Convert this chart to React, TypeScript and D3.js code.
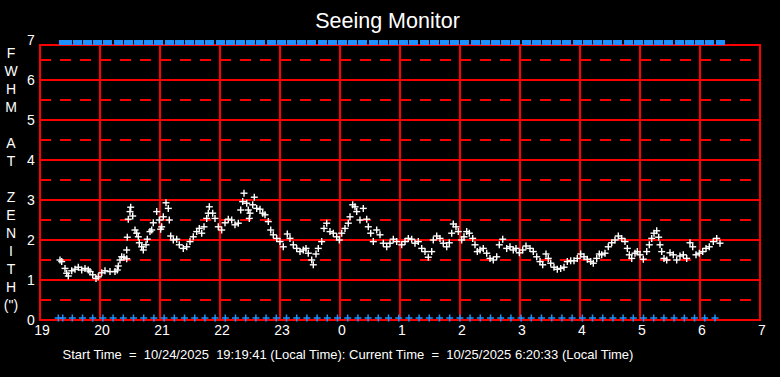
import React from "react";
import * as d3 from "d3";

// minutes since 19:00 local time
const seeingTimes: number[] = [
  20.0, 21.7, 25.0, 26.7, 28.3, 31.7, 35.0, 38.3, 41.7, 45.0, 48.3, 50.0, 52.7, 56.0, 58.3, 61.7, 65.0, 70.0, 75.0, 77.3,
  78.3, 80.0, 81.7, 84.0, 86.7, 86.7, 87.3, 88.3, 90.0, 90.7, 92.7, 95.0, 96.7, 98.3, 99.3, 101.7, 103.3, 106.0, 107.3, 110.0,
  111.7, 113.3, 116.7, 119.3, 120.7, 121.7, 123.3, 126.0, 128.3, 129.3, 130.7, 133.3, 136.7, 139.3, 143.3, 146.7, 150.0, 153.3, 156.7, 159.3,
  161.7, 164.0, 166.7, 168.3, 169.3, 172.7, 175.0, 178.3, 181.7, 185.0, 188.3, 191.7, 195.0, 198.3, 200.7, 202.7, 204.0, 206.7, 208.3, 209.3,
  210.0, 212.7, 214.3, 216.7, 220.0, 222.7, 225.0, 228.3, 230.7, 233.3, 236.7, 240.0, 243.3, 247.3, 250.0, 253.3, 256.7, 260.0, 263.3, 266.0,
  268.3, 271.7, 273.3, 276.0, 278.3, 281.7, 284.0, 286.7, 290.0, 293.3, 296.7, 299.3, 301.7, 305.0, 308.3, 310.0, 312.7, 315.0, 316.7, 320.0,
  323.3, 326.7, 328.3, 330.7, 333.3, 336.7, 340.0, 343.3, 346.7, 350.0, 353.3, 356.7, 361.7, 365.0, 368.3, 371.7, 375.0, 378.3, 381.7, 385.0,
  388.3, 391.7, 393.3, 396.7, 400.0, 403.3, 406.7, 409.3, 411.7, 413.3, 416.0, 418.3, 421.7, 424.0, 426.7, 429.3, 432.7, 435.0, 437.3, 440.0,
  443.3, 446.7, 450.0, 453.3, 456.7, 459.3, 462.7, 466.7, 470.0, 473.3, 476.0, 479.3, 482.7, 486.0, 490.0, 493.3, 496.7, 500.0, 502.7, 506.0,
  508.3, 510.7, 514.0, 517.3, 520.7, 524.0, 527.3, 530.7, 534.0, 537.3, 540.7, 544.0, 547.3, 550.7, 553.3, 556.7, 559.3, 561.7, 565.0, 568.3,
  571.7, 575.0, 578.3, 581.7, 585.0, 587.3, 589.3, 591.7, 595.0, 597.3, 600.0, 603.3, 606.7, 609.3, 611.7, 614.0, 616.7, 618.7, 620.0, 621.7,
  624.0, 626.7, 630.0, 633.3, 636.7, 640.0, 643.3, 646.7, 650.0, 652.7, 656.0, 659.3, 662.7, 666.0, 669.3, 673.3, 676.7, 680.0,
];

const seeingValues: number[] = [
  1.50, 1.46, 1.29, 1.17, 1.10, 1.23, 1.27, 1.32, 1.25, 1.29, 1.25, 1.21, 1.13, 1.04, 1.08, 1.18, 1.23, 1.21, 1.21, 1.25,
  1.35, 1.50, 1.58, 1.57, 1.53, 1.75, 2.07, 2.52, 2.71, 2.82, 2.60, 2.25, 2.17, 2.08, 1.93, 1.83, 1.75, 1.88, 2.02, 2.21,
  2.25, 2.43, 2.71, 2.50, 2.27, 2.33, 2.58, 2.93, 2.79, 2.50, 2.10, 2.00, 2.02, 1.88, 1.79, 1.83, 1.96, 2.08, 2.21, 2.29,
  2.17, 2.33, 2.54, 2.67, 2.83, 2.67, 2.54, 2.33, 2.25, 2.43, 2.52, 2.50, 2.38, 2.42, 2.75, 2.96, 3.17, 2.92, 2.75, 2.54,
  2.67, 2.88, 3.07, 2.79, 2.77, 2.67, 2.63, 2.46, 2.25, 2.13, 2.04, 1.96, 1.83, 2.15, 2.04, 1.88, 1.79, 1.71, 1.75, 1.79,
  1.67, 1.50, 1.38, 1.65, 1.79, 1.96, 2.29, 2.42, 2.21, 2.17, 2.08, 2.00, 2.17, 2.29, 2.42, 2.58, 2.88, 2.83, 2.71, 2.50,
  2.79, 2.52, 2.33, 2.17, 1.96, 2.25, 2.13, 1.92, 1.83, 1.92, 2.02, 1.96, 1.88, 1.96, 2.04, 2.02, 1.92, 1.96, 1.79, 1.71,
  1.57, 1.71, 2.00, 2.10, 2.04, 1.92, 1.83, 1.93, 2.17, 2.40, 2.33, 2.21, 2.00, 2.08, 2.21, 2.17, 2.04, 1.88, 1.71, 1.75,
  1.79, 1.67, 1.54, 1.50, 1.58, 1.88, 2.02, 1.79, 1.83, 1.75, 1.79, 1.68, 1.75, 1.85, 1.79, 1.71, 1.58, 1.46, 1.38, 1.65,
  1.54, 1.42, 1.32, 1.27, 1.29, 1.32, 1.46, 1.48, 1.48, 1.54, 1.65, 1.58, 1.52, 1.46, 1.42, 1.54, 1.65, 1.63, 1.67, 1.83,
  1.93, 2.00, 2.10, 2.04, 1.96, 1.79, 1.63, 1.54, 1.67, 1.71, 1.63, 1.52, 1.71, 1.88, 2.04, 2.17, 2.23, 2.07, 1.88, 1.71,
  1.54, 1.50, 1.68, 1.63, 1.50, 1.60, 1.63, 1.54, 1.93, 1.83, 1.63, 1.67, 1.71, 1.79, 1.83, 1.96, 2.04, 1.92,
];

// minutes since 19:00 of the status markers (blue)
const statusTimes: number[] = [
  18.3, 22.7, 32.3, 42.5, 52.7, 62.9, 73.1, 83.3, 93.5, 103.7, 113.9, 124.1, 134.3, 144.5, 154.7, 164.9, 175.1, 185.3, 195.5, 205.7,
  215.9, 226.1, 236.3, 246.5, 256.7, 266.9, 277.1, 287.3, 297.5, 307.7, 317.9, 328.1, 338.3, 348.5, 358.7, 368.9, 379.1, 389.3, 399.5, 409.7,
  419.9, 430.1, 440.3, 450.5, 460.7, 470.9, 481.1, 491.3, 501.5, 511.7, 521.9, 532.1, 542.3, 552.5, 562.7, 572.9, 583.1, 593.3, 603.5, 613.7,
  623.9, 634.1, 644.3, 654.5, 664.7, 675.0,
];

const xTickLabels: string[] = ["19", "20", "21", "22", "23", "0", "1", "2", "3", "4", "5", "6", "7"];
const yTicks: number[] = [0, 1, 2, 3, 4, 5, 6, 7];
const yHalfTicks: number[] = [0.5, 1.5, 2.5, 3.5, 4.5, 5.5, 6.5];
const yTitleLetters: string[] = ["F", "W", "H", "M", "", "A", "T", "", "Z", "E", "N", "I", "T", "H", "(\")"];

const title = "Seeing Monitor";
const footer = "Start Time  =  10/24/2025  19:19:41 (Local Time): Current Time  =  10/25/2025 6:20:33 (Local Time)";

const W = 780;
const H = 377;
const left = 40;
const right = 760;
const boxTop = 45;
const bottom = 320;

export default function App() {
  const x = d3.scaleLinear().domain([0, 720]).range([left, right]);
  const y = d3.scaleLinear().domain([0, 7]).range([bottom, 40]);
  const font = "Arial, 'Liberation Sans', Helvetica, sans-serif";
  const red = "#ff0000";
  const blue = "#1e90ff";

  return (
    <svg
      width={W}
      height={H}
      style={{ position: "absolute", left: 0, top: 0, background: "#000" }}
      fontFamily={font}
    >
      <rect x={0} y={0} width={W} height={H} fill="#000" />
      <text x={387.5} y={28} fill="#fff" fontSize={21.5} textAnchor="middle">
        {title}
      </text>

      {/* dashed half-unit lines */}
      {yHalfTicks.map((v) => (
        <line
          key={"h" + v}
          x1={left}
          x2={right}
          y1={y(v)}
          y2={y(v)}
          stroke={red}
          strokeWidth={2}
          strokeDasharray="11 9"
          shapeRendering="crispEdges"
        />
      ))}
      {/* solid unit lines */}
      {yTicks.filter((v) => v > 0 && v < 7).map((v) => (
        <line
          key={"s" + v}
          x1={left}
          x2={right}
          y1={y(v)}
          y2={y(v)}
          stroke={red}
          strokeWidth={2}
          shapeRendering="crispEdges"
        />
      ))}
      {/* vertical hour lines */}
      {xTickLabels.map((_, i) => (
        <line
          key={"v" + i}
          x1={x(i * 60)}
          x2={x(i * 60)}
          y1={boxTop}
          y2={bottom}
          stroke={red}
          strokeWidth={2}
          shapeRendering="crispEdges"
        />
      ))}
      <rect
        x={left}
        y={boxTop}
        width={right - left}
        height={bottom - boxTop}
        fill="none"
        stroke={red}
        strokeWidth={2}
        shapeRendering="crispEdges"
      />

      {/* y tick labels */}
      {yTicks.map((v) => (
        <text key={"yl" + v} x={31} y={y(v) + 5} fill="#fff" fontSize={14} textAnchor="middle">
          {v}
        </text>
      ))}
      {/* x tick labels */}
      {xTickLabels.map((t, i) => (
        <text key={"xl" + i} x={x(i * 60) + 2} y={335} fill="#fff" fontSize={14} textAnchor="middle">
          {t}
        </text>
      ))}
      {/* y title */}
      {yTitleLetters.map((c, i) => (
        <text key={"yt" + i} x={11} y={58 + i * 18} fill="#fff" fontSize={14} textAnchor="middle">
          {c}
        </text>
      ))}

      {/* blue status markers: top bar */}
      {statusTimes.map((t, i) => (
        <g key={"bt" + i}>
          <rect x={x(t) + 0.5} y={40} width={9} height={5} fill={blue} shapeRendering="crispEdges" />
        </g>
      ))}
      {/* blue status markers: bottom pluses */}
      {statusTimes.map((t, i) => (
        <g key={"bb" + i} stroke={blue} strokeWidth={1.5}>
          <line x1={x(t) - 3.5} x2={x(t) + 3.5} y1={318} y2={318} />
          <line x1={x(t)} x2={x(t)} y1={314.5} y2={321.5} />
        </g>
      ))}

      {/* seeing data points */}
      {seeingTimes.map((t, i) => {
        const cx = x(t);
        const cy = y(seeingValues[i]);
        return (
          <g key={"p" + i} stroke="#fff" strokeWidth={1.4}>
            <line x1={cx - 3.5} x2={cx + 3.5} y1={cy} y2={cy} />
            <line x1={cx} x2={cx} y1={cy - 3.5} y2={cy + 3.5} />
          </g>
        );
      })}

      <text x={348} y={359} fill="#fff" fontSize={13} textAnchor="middle" style={{ whiteSpace: "pre" }}>
        {footer}
      </text>
    </svg>
  );
}
